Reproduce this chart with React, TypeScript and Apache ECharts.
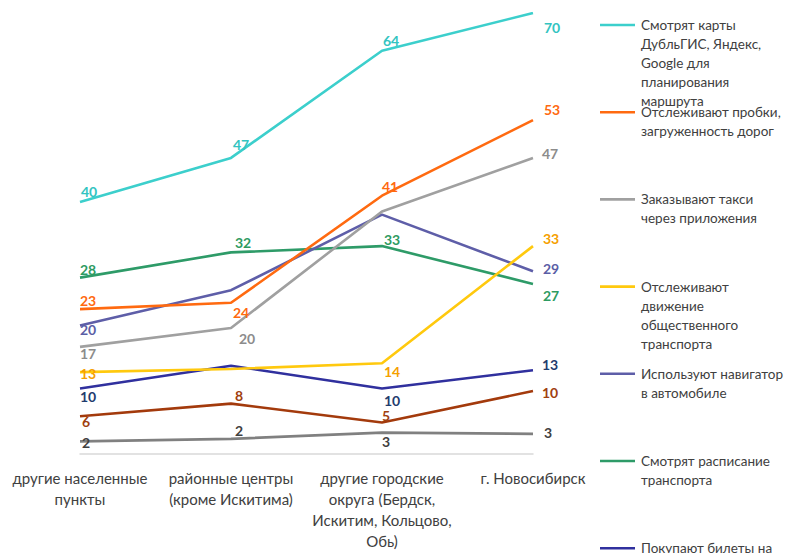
import React, { useEffect, useRef } from "react";
import * as echarts from "echarts";

const categories = [
  "другие населенные\nпункты",
  "районные центры\n(кроме Искитима)",
  "другие городские\nокруга (Бердск,\nИскитим, Кольцово,\nОбь)",
  "г. Новосибирск",
];

const legendTexts = [
  "Смотрят карты\nДубльГИС, Яндекс,\nGoogle для\nпланирования\nмаршрута",
  "Отслеживают пробки,\nзагруженность дорог",
  "Заказывают такси\nчерез приложения",
  "Отслеживают\nдвижение\nобщественного\nтранспорта",
  "Используют навигатор\nв автомобиле",
  "Смотрят расписание\nтранспорта",
  "Покупают билеты на",
];

const seriesNames = [
  "Смотрят карты ДубльГИС, Яндекс, Google для планирования маршрута",
  "Отслеживают пробки, загруженность дорог",
  "Заказывают такси через приложения",
  "Отслеживают движение общественного транспорта",
  "Используют навигатор в автомобиле",
  "Смотрят расписание транспорта",
  "Покупают билеты на",
  "Серия 8",
  "Серия 9",
];

const mapsValues = [40, 47, 64, 70];
const trafficValues = [23, 24, 41, 53];
const taxiValues = [17, 20, 38.5, 47];
const transitTrackValues = [13, 13.5, 14.4, 33];
const navigatorValues = [20.4, 26, 38, 29];
const scheduleValues = [28, 32, 33, 27];
const ticketsValues = [10.4, 14, 10.4, 13.3];
const series8Values = [6, 8, 5, 10];
const series9Values = [2, 2.4, 3.4, 3.2];

const lineColors = ["#3CCFCC", "#FF6A10", "#A0A0A0", "#FFC90E", "#5E5EA8", "#2E9B68", "#30309E", "#A33A0C", "#808080"];
const labelColors = ["#33C4C1", "#FF6A10", "#8C8C8C", "#F5A000", "#5B5EA6", "#2E9B62", "#1F3C6E", "#A0400F", "#404040"];

// label offsets per point (null = no label)
const labelOffsets: (number[] | null)[][] = [
  [[9, -11], [10, -13], [9, -10], [19, 14]],
  [[8, -9], [10, 10], [8, -9], [19, -11]],
  [[8, 7], [16, 10], null, [17, -4]],
  [[8, 1], null, [10, 8], [18, -8]],
  [[8, 4], null, null, [18, -3]],
  [[8, -8], [12, -10], [10, -7], [18, 12]],
  [[8, 8], null, [10, 12], [17, -6]],
  [[6, 5], [8, -8], [4, -7], [17, 1]],
  [[6, 1], [8, -8], [4, 9], [15, -1]],
];

const allValues = [
  mapsValues, trafficValues, taxiValues, transitTrackValues, navigatorValues,
  scheduleValues, ticketsValues, series8Values, series9Values,
];

const FONT = "Lato, 'Noto Sans', sans-serif";

export default function App() {
  const ref = useRef<HTMLDivElement>(null);
  useEffect(() => {
    if (!ref.current) return;
    const chart = echarts.init(ref.current, null, { renderer: "svg" });
    const series = allValues.map((vals, si) => ({
      type: "line",
      name: seriesNames[si],
      symbol: "circle",
      symbolSize: 1,
      itemStyle: { color: "rgba(0,0,0,0)" },
      lineStyle: { color: lineColors[si], width: 2.6 },
      z: 10 - si,
      data: vals.map((v, pi) => {
        const off = labelOffsets[si][pi];
        return {
          value: v,
          label: off
            ? {
                show: true,
                position: "inside",
                offset: off,
                formatter: (p: any) => String(Math.round(p.value)),
                color: labelColors[si],
                fontFamily: FONT,
                fontWeight: "bold",
                fontSize: 14,
              }
            : { show: false },
        };
      }),
    }));

    const graphics: any[] = [];
    legendTexts.forEach((t, i) => {
      const y0 = 25 + i * 87.2;
      graphics.push({
        type: "line",
        shape: { x1: 600, y1: y0, x2: 635, y2: y0 },
        style: { stroke: lineColors[i], lineWidth: 2.6 },
      });
      graphics.push({
        type: "text",
        x: 641,
        y: y0 - 9.5,
        style: {
          text: t,
          fill: "#404040",
          font: `13.5px ${FONT}`,
          lineHeight: 19,
          textVerticalAlign: "top",
        },
      });
    });

    chart.setOption({
      animation: false,
      grid: { left: 80, right: 254, top: 13, bottom: 99 },
      xAxis: {
        type: "category",
        data: categories,
        boundaryGap: false,
        axisLine: { lineStyle: { color: "#D9D9D9", width: 1.5 } },
        axisTick: { show: false },
        axisLabel: {
          color: "#404040",
          fontFamily: FONT,
          fontSize: 15,
          lineHeight: 21,
          margin: 13,
          interval: 0,
        },
      },
      yAxis: {
        type: "value",
        min: 0,
        max: 70,
        show: false,
        splitLine: { show: false },
      },
      series,
      graphic: graphics,
    });
    return () => chart.dispose();
  }, []);
  return (
    <div
      ref={ref}
      style={{ width: 787, height: 553, position: "absolute", left: 0, top: 0 }}
    />
  );
}
